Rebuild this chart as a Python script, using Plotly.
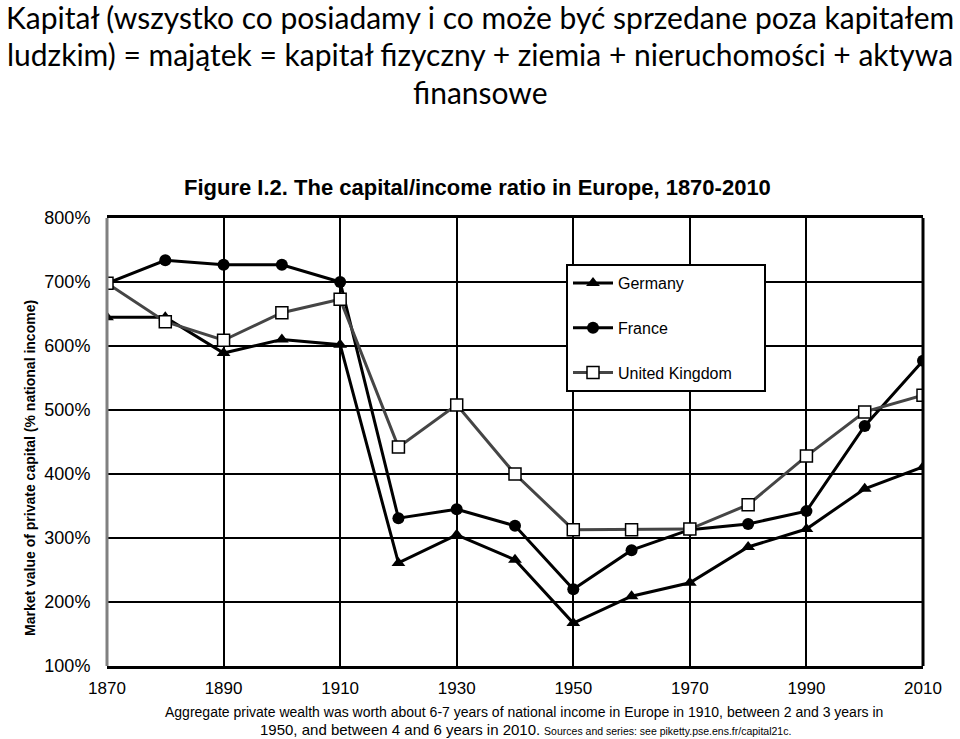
import plotly.graph_objects as go

years = [1870, 1880, 1890, 1900, 1910, 1920, 1930, 1940, 1950, 1960, 1970, 1980, 1990, 2000, 2010]
germany = [645, 645, 589, 610, 602, 261, 305, 266, 167, 209, 230, 286, 314, 377, 411]
france = [698, 734, 727, 727, 700, 331, 345, 319, 220, 281, 313, 322, 342, 475, 577]
uk = [698, 638, 609, 652, 673, 442, 508, 400, 313, 313, 314, 352, 428, 497, 523]

series_names = ["Germany", "France", "United Kingdom"]
x_ticks = [1870, 1890, 1910, 1930, 1950, 1970, 1990, 2010]
y_ticks = [100, 200, 300, 400, 500, 600, 700, 800]

slide_title = [
    "Kapitał (wszystko co posiadamy i co może być sprzedane poza kapitałem",
    "ludzkim) = majątek = kapitał fizyczny + ziemia + nieruchomości + aktywa",
    "finansowe",
]
fig_title = "Figure I.2. The capital/income ratio in Europe, 1870-2010"
y_title = "Market value of private capital (% national income)"
caption1 = "Aggregate private wealth was worth about 6-7 years of national income in Europe in 1910, between 2 and 3 years in"
caption2 = ("<span style='font-size:15px'>1950, and between 4 and 6 years in 2010.</span> "
            "<span style='font-size:10.5px'>Sources and series: see piketty.pse.ens.fr/capital21c.</span>")

L, R, T, B = 107, 923, 218, 666
W, H = R - L, B - T


def px(x):
    return (x - L) / W


def py(y):
    return (B - y) / H


pad = "\u00a0" * 6  # widens the legend box to match the reference

fig = go.Figure()
fig.add_trace(go.Scatter(
    x=years, y=germany, name=series_names[0], mode="lines+markers", legendgroup="g",
    line=dict(color="black", width=3),
    marker=dict(symbol="triangle-up", size=12, color="black")))
fig.add_trace(go.Scatter(
    x=years, y=france, name=series_names[1], mode="lines+markers", legendgroup="f",
    line=dict(color="black", width=3),
    marker=dict(symbol="circle", size=12, color="black")))
fig.add_trace(go.Scatter(
    x=years, y=uk, name=series_names[2] + pad, mode="lines+markers", legendgroup="u",
    line=dict(color="#454545", width=3),
    marker=dict(symbol="square", size=12, color="white", line=dict(color="black", width=1.5))))

arial = "Liberation Sans, Arial, sans-serif"

fig.update_layout(
    width=960, height=739,
    margin=dict(l=L, r=960 - R, t=T, b=739 - B, pad=0),
    paper_bgcolor="white", plot_bgcolor="white",
    font=dict(family=arial, color="black"),
    showlegend=True,
    legend=dict(
        x=px(566), y=py(264), xanchor="left", yanchor="top",
        bgcolor="white", bordercolor="black", borderwidth=2,
        font=dict(size=16, family=arial, color="black"),
        tracegroupgap=21, itemwidth=40,
    ),
    xaxis=dict(
        range=[1870, 2010], tickvals=x_ticks, ticktext=[str(v) for v in x_ticks],
        showgrid=True, gridcolor="black", gridwidth=2,
        showline=True, linecolor="black", linewidth=3, mirror=True,
        ticks="outside", ticklen=5, tickcolor="white",
        tickfont=dict(size=17, family=arial, color="black"),
        zeroline=False, fixedrange=True,
    ),
    yaxis=dict(
        range=[100, 800], tickvals=y_ticks, ticktext=[f"{v}%" for v in y_ticks],
        showgrid=True, gridcolor="black", gridwidth=2,
        showline=False,
        ticks="outside", ticklen=12, tickcolor="white",
        tickfont=dict(size=18, family=arial, color="black"),
        zeroline=False, fixedrange=True,
    ),
    shapes=[
        dict(type="line", xref="paper", yref="paper", x0=0, x1=0, y0=0, y1=1,
             line=dict(color="#808080", width=3)),
        dict(type="line", xref="paper", yref="paper", x0=1, x1=1, y0=0, y1=1,
             line=dict(color="black", width=3)),
    ],
)

ann = []
title_font = dict(family="Lato, Liberation Sans, sans-serif", size=30, color="black")
for txt, yy in zip(slide_title, [17, 54, 92]):
    ann.append(dict(text=txt, x=px(480), y=py(yy), xref="paper", yref="paper",
                    xanchor="center", yanchor="middle", showarrow=False, font=title_font))
ann.append(dict(text=f"<b>{fig_title}</b>", x=px(477), y=py(187), xref="paper", yref="paper",
                xanchor="center", yanchor="middle", showarrow=False,
                font=dict(family=arial, size=22, color="black")))
ann.append(dict(text=f"<b>{y_title}</b>", x=px(30), y=py(468), xref="paper", yref="paper",
                xanchor="center", yanchor="middle", showarrow=False, textangle=-90,
                font=dict(family=arial, size=14, color="black")))
ann.append(dict(text=caption1, x=px(524), y=py(712), xref="paper", yref="paper",
                xanchor="center", yanchor="middle", showarrow=False,
                font=dict(family=arial, size=14, color="black")))
ann.append(dict(text=caption2, x=px(525), y=py(729), xref="paper", yref="paper",
                xanchor="center", yanchor="middle", showarrow=False,
                font=dict(family=arial, size=14, color="black")))
fig.update_layout(annotations=ann)

fig.write_html("out.html", config=dict(displayModeBar=False))
